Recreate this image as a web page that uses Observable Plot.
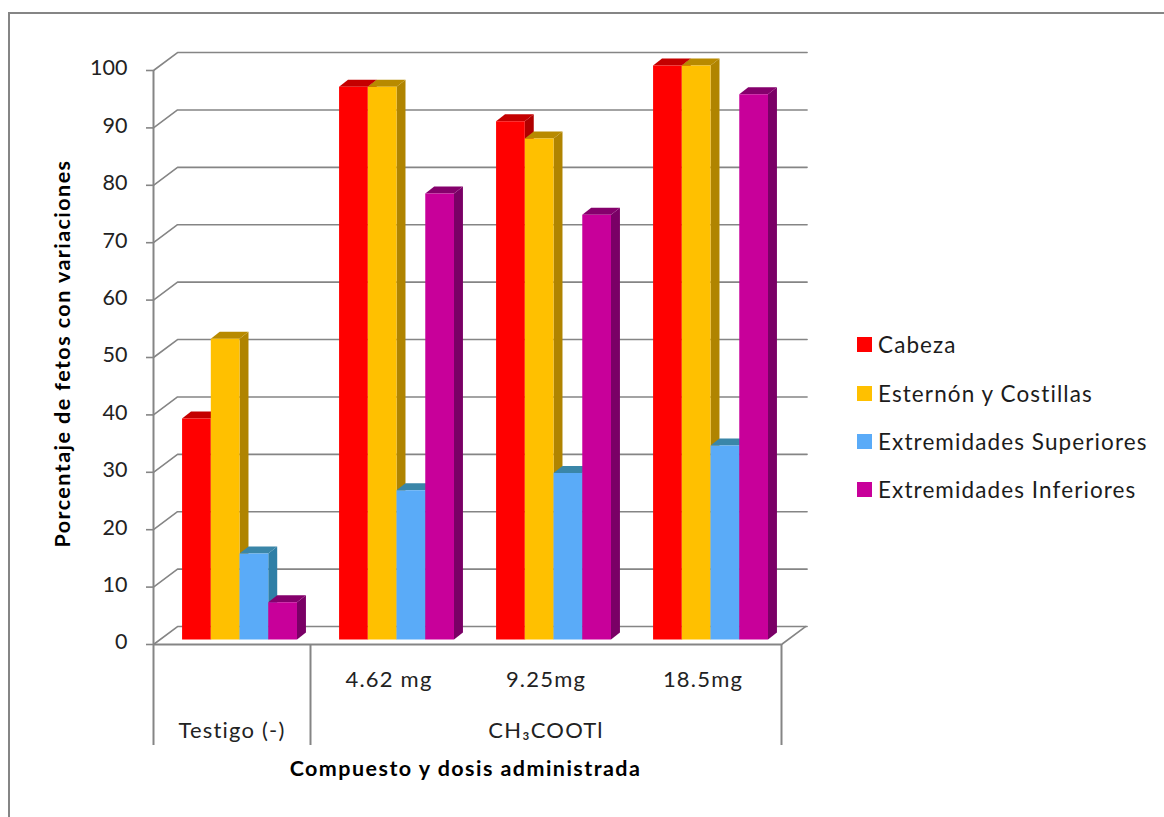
<!DOCTYPE html>
<html lang="es">
<head>
<meta charset="utf-8">
<title>Porcentaje de fetos con variaciones</title>
<script src="https://cdn.jsdelivr.net/npm/d3@7"></script>
<script src="https://cdn.jsdelivr.net/npm/@observablehq/plot@0.6"></script>
<style>
  html, body { margin: 0; background: #fff; }
  #chart { position: relative; width: 1164px; height: 817px; overflow: hidden; font-family: Lato, sans-serif; }
  #frame { position: absolute; left: 8px; top: 12px; width: 1160px; height: 820px; border: 2px solid #858585; box-sizing: border-box; }
  #legend { position: absolute; left: 857px; top: 320.5px; margin: 0; padding: 0; list-style: none; font-size: 22.5px; letter-spacing: 1.1px; color: #1c1c1c; }
  #legend li { display: flex; align-items: center; height: 48.4px; white-space: nowrap; }
  #legend i { display: block; width: 15px; height: 15px; margin-right: 6px; }
  svg { display: block; position: absolute; left: 0; top: 0; overflow: visible; background: transparent !important; }
  g[font-weight="700"] text { letter-spacing: 1.45px; }
  g[font-size="22"] text { letter-spacing: 1.2px; }
</style>
</head>
<body>
<div id="chart"></div>
<script>
// Percentage of fetuses with variations, by compound, dose and body region.
const doses = ["Testigo (-)", "4.62 mg", "9.25mg", "18.5mg"];
const regions = ["Cabeza", "Esternón y Costillas", "Extremidades Superiores", "Extremidades Inferiores"];
const cabeza = [38.5, 96.3, 90.3, 100];
const esternon = [52.4, 96.3, 87.3, 100];
const superiores = [15, 26, 29, 33.8];
const inferiores = [6.5, 77.7, 74, 95];
const series = [cabeza, esternon, superiores, inferiores];

const frontColors = ["#ff0000", "#ffc000", "#5aabf8", "#c8009a"];
const topColors = ["#c40000", "#b88a00", "#3a86a8", "#85006c"];
const sideColors = ["#b00000", "#b08400", "#2f7fa6", "#7a0066"];

const yTicks = d3.range(0, 101, 10);

// Oblique projection, in data units: one step back in depth moves right and up.
const wallDx = 0.153, wallDy = 3.13;   // front of the floor to the back wall
const barFrontDy = 0.87;               // bars stand slightly behind the floor edge
const barShift = 0.048;
const sideDx = 0.057, sideDy = 1.22;   // visible depth of each bar
const barWidth = 0.183, groupPad = 0.134;

const polygons = [];
doses.forEach((dose, g) => {
  series.forEach((values, s) => {
    const v = values[g];
    const x0 = g + barShift + groupPad + s * barWidth;
    const x1 = x0 + barWidth;
    const y0 = barFrontDy, y1 = v + barFrontDy;
    const id = `${g}-${s}`;
    const ring = (part, fill, pts) => pts.forEach(([x, y]) => polygons.push({id: `${id}-${part}`, fill, x, y}));
    ring("side", sideColors[s], [[x1, y0], [x1 + sideDx, y0 + sideDy], [x1 + sideDx, y1 + sideDy], [x1, y1]]);
    ring("top", topColors[s], [[x0, y1], [x0 + sideDx, y1 + sideDy], [x1 + sideDx, y1 + sideDy], [x1, y1]]);
    ring("front", frontColors[s], [[x0, y0], [x1, y0], [x1, y1], [x0, y1]]);
  });
});

// Back wall gridlines with their diagonal return to the value axis.
const wall = yTicks.flatMap((t) => [
  {t, x: 0, y: t},
  {t, x: wallDx, y: t + wallDy},
  {t, x: 4 + wallDx + 0.01, y: t + wallDy}
]);
const floorEdge = [
  {x: 4, y: 0},
  {x: 4 + wallDx, y: wallDy}
];

const gridColor = "#858585";
const inkColor = "#222";

const plot = Plot.plot({
  width: 1164,
  height: 817,
  marginLeft: 153,
  marginRight: 383,
  marginTop: 70,
  marginBottom: 173,
  x: {type: "linear", domain: [0, 4], axis: null},
  y: {type: "linear", domain: [0, 100], axis: null},
  style: {fontFamily: "Lato, sans-serif", background: "transparent", overflow: "visible"},
  marks: [
    Plot.line(wall, {x: "x", y: "y", z: "t", stroke: gridColor, strokeWidth: 1.6}),
    Plot.line(floorEdge, {x: "x", y: "y", stroke: gridColor, strokeWidth: 1.6}),
    Plot.ruleY([0], {x1: 0, x2: 4, stroke: gridColor, strokeWidth: 2}),
    Plot.ruleX([0], {y1: -17.6, y2: 100, stroke: gridColor, strokeWidth: 2}),
    Plot.ruleX([1, 4], {y1: -17.6, y2: 0, stroke: gridColor, strokeWidth: 2}),
    Plot.ruleY(yTicks, {x1: 0, x2: 0, insetLeft: -7, stroke: gridColor, strokeWidth: 1.6}),
    Plot.line(polygons, {x: "x", y: "y", z: "id", fill: "fill", stroke: "none", curve: "linear-closed"}),
    Plot.text(yTicks, {x: 0, y: (d) => d, text: String, textAnchor: "end", dx: -26, dy: -2, fontSize: 21.5, fill: inkColor}),
    Plot.text(doses.slice(1).map((d, i) => ({d, x: i + 1.5})), {x: "x", y: 0, text: "d", dy: 35, fontSize: 22, fill: inkColor}),
    Plot.text([{d: doses[0], x: 0.5}, {d: "CH₃COOTl", x: 2.5}], {x: "x", y: 0, text: "d", dy: 86, fontSize: 22, fill: inkColor}),
    Plot.text(["Compuesto y dosis administrada"], {x: 2.0, y: 0, dx: -2, dy: 125, text: (d) => d, fontSize: 21.5, fontWeight: 700, fill: "#000"}),
    Plot.text(["Porcentaje de fetos con variaciones"], {x: 0, y: 50, dx: -90, dy: -4, rotate: -90, text: (d) => d, fontSize: 21.5, fontWeight: 700, fill: "#000"})
  ]
});

const chart = document.getElementById("chart");
const frame = document.createElement("div");
frame.id = "frame";
chart.append(frame, plot);

const legend = document.createElement("ul");
legend.id = "legend";
regions.forEach((name, i) => {
  const li = document.createElement("li");
  const swatch = document.createElement("i");
  swatch.style.background = frontColors[i];
  li.append(swatch, name);
  legend.append(li);
});
chart.append(legend);
</script>
</body>
</html>
